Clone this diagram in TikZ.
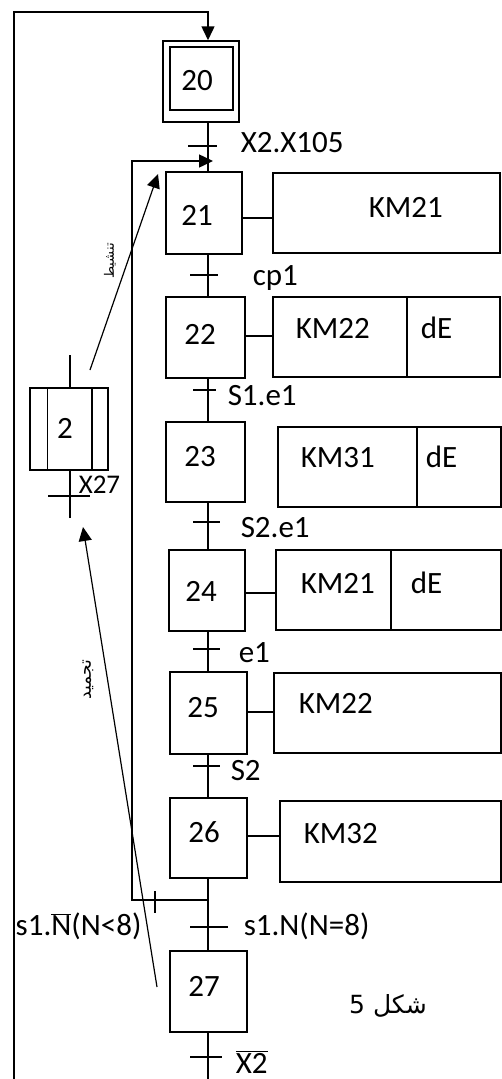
\documentclass[tikz,border=0pt]{standalone}
\usepackage{fontspec}
\setmainfont{Carlito}
\newfontfamily\arabicfont[Script=Arabic]{DejaVu Sans}
\TeXXeTstate=1
\usetikzlibrary{arrows.meta}
\begin{document}
\begin{tikzpicture}[x=1pt,y=-1pt,line width=1.5pt,
  stepbox/.style={draw,inner sep=0pt},
  actbox/.style={draw,inner sep=0pt,minimum height=80pt},
  num/.style={font=\fontsize{31}{32}\selectfont,inner sep=0pt},
  lbl/.style={anchor=base west,inner sep=0pt,font=\fontsize{31}{32}\selectfont},
  tip/.style={-{Triangle[length=14pt,width=13pt]}},
  ar/.style={inner sep=0pt,rotate=90}]
\useasboundingbox (0,0) rectangle (502,1079);
\fill[white] (0,0) rectangle (502,1079);
% axis and helper coordinates
\coordinate (ax) at (208,0);
\coordinate (tl) at (14,12);
\coordinate (bl) at (14,1082);
\coordinate (bot) at (208,1082);
% steps
\node[stepbox,minimum width=76pt,minimum height=81pt] (s20o) at (201,81.5) {};
\node[stepbox,minimum width=63pt,minimum height=63pt,label={[num,xshift=-4.5pt,yshift=-2.5pt]center:20}] (s20) at (201.5,78.5) {};
\node[stepbox,minimum width=76pt,minimum height=82pt,label={[num,xshift=-7pt,yshift=-2pt]center:21}] (s21) at (204,213) {};
\node[stepbox,minimum width=79pt,minimum height=81pt,label={[num,xshift=-5.5pt,yshift=3.5pt]center:22}] (s22) at (205.5,337.5) {};
\node[stepbox,minimum width=79pt,minimum height=80pt,label={[num,xshift=-5.5pt,yshift=5pt]center:23}] (s23) at (205.5,462) {};
\node[stepbox,minimum width=76pt,minimum height=81pt,label={[num,xshift=-6pt,yshift=-0.5pt]center:24}] (s24) at (207,590.5) {};
\node[stepbox,minimum width=77pt,minimum height=82pt,label={[num,xshift=-5.5pt,yshift=5pt]center:25}] (s25) at (208.5,713) {};
\node[stepbox,minimum width=77pt,minimum height=80pt,label={[num,xshift=-4.5pt,yshift=6pt]center:26}] (s26) at (208.5,838) {};
\node[stepbox,minimum width=77pt,minimum height=81pt,label={[num,xshift=-4.5pt,yshift=5.5pt]center:27}] (s27) at (208.5,991.5) {};
% macro step 2
\node[stepbox,minimum width=78pt,minimum height=82pt,label={[num,xshift=-4pt,yshift=1pt]center:2}] (m2) at (69,429) {};
\draw ([xshift=18pt]m2.north west) -- ([xshift=18pt]m2.south west);
\draw ([xshift=-17pt]m2.north east) -- ([xshift=-17pt]m2.south east);
\coordinate (m2t) at (70,355);
\coordinate (m2b) at (70,518);
\draw (m2t) -- (m2t |- m2.north);
\draw (m2b) -- (m2b |- m2.south);
\draw (48,496) -- (90,496);
\node[lbl,font=\fontsize{27}{28}\selectfont] (lx27) at (78,493) {X27};
% action boxes
\node[actbox,minimum width=227pt] (a21) at (386.5,213) {};
\node[actbox,minimum width=227pt] (a22) at (386.5,337) {};
\node[actbox,minimum width=223pt] (a23) at (389.5,467) {};
\node[actbox,minimum width=225pt] (a24) at (388.5,590) {};
\node[actbox,minimum width=227pt] (a25) at (387.5,713) {};
\node[actbox,minimum width=221pt,minimum height=81pt] (a26) at (390.5,841.5) {};
\coordinate (d22) at (407,0);
\coordinate (d23) at (417,0);
\coordinate (d24) at (391,0);
\draw (a22.north -| d22) -- (a22.south -| d22);
\draw (a23.north -| d23) -- (a23.south -| d23);
\draw (a24.north -| d24) -- (a24.south -| d24);
\node[lbl] (t21) at (368,217) {KM21};
\node[lbl] (t22) at (295,338) {KM22};
\node[lbl] (t22b) at (420,338) {dE};
\node[lbl] (t23) at (300,467) {KM31};
\node[lbl] (t23b) at (425,467) {dE};
\node[lbl] (t24) at (300,593) {KM21};
\node[lbl] (t24b) at (410,593) {dE};
\node[lbl] (t25) at (298,713) {KM22};
\node[lbl] (t26) at (303,843) {KM32};
% step-action connectors
\coordinate (c21) at (0,218);
\coordinate (c22) at (0,336);
\coordinate (c24) at (0,593);
\coordinate (c25) at (0,712);
\coordinate (c26) at (0,836);
\draw (s21.east |- c21) -- (a21.west |- c21);
\draw (s22.east |- c22) -- (a22.west |- c22);
\draw (s24.east |- c24) -- (a24.west |- c24);
\draw (s25.east |- c25) -- (a25.west |- c25);
\draw (s26.east |- c26) -- (a26.west |- c26);
% main links
\draw[tip] (bl) -- (tl) -- (tl -| ax) -- (s20o.north -| ax);
\draw (s20o.south -| ax) -- (s21.north -| ax);
\draw (s21.south -| ax) -- (s22.north -| ax);
\draw (s22.south -| ax) -- (s23.north -| ax);
\draw (s23.south -| ax) -- (s24.north -| ax);
\draw (s24.south -| ax) -- (s25.north -| ax);
\draw (s25.south -| ax) -- (s26.north -| ax);
\draw (s26.south -| ax) -- (s27.north -| ax);
\draw (s27.south -| ax) -- (bot);
% loop back to 21
\coordinate (lb) at (132,900);
\coordinate (lt) at (132,161);
\coordinate (le) at (213,161);
\draw[tip] (lb -| ax) -- (lb) -- (lt) -- (le);
\draw (155,891) -- (155,913);
% transitions
\draw (188,146) -- (217,146);
\draw (190,275) -- (218,275);
\draw (193,390) -- (216,390);
\draw (193,522) -- (220,522);
\draw (193,649) -- (220,649);
\draw (193,766) -- (220,766);
\draw (190,927) -- (228,927);
\draw (190,1057) -- (222,1057);
\node[lbl] (r1) at (240,152) {X2.X105};
\node[lbl] (r2) at (252,285) {cp1};
\node[lbl] (r3) at (227,405) {S1.e1};
\node[lbl] (r4) at (240,537) {S2.e1};
\node[lbl] (r5) at (238,662) {e1};
\node[lbl] (r6) at (230,780) {S2};
\node[lbl] (r7) at (243,935) {s1.N(N=8)};
\node[lbl] (r8) at (15,935) {s1.\(\overline{\mbox{N}}\)(N<8)};
\node[lbl] (r9) at (235,1073) {\(\overline{\mbox{X2}}\)};
% forcing arrows
\coordinate (f1a) at (90,370);
\coordinate (f1b) at (158,174);
\coordinate (f2a) at (157,987);
\coordinate (f2b) at (83,527);
\draw[tip,line width=1.2pt] (f1a) -- (f1b);
\draw[tip,line width=1.2pt] (f2a) -- (f2b);
\node[ar,font=\arabicfont\fontsize{13}{14}\selectfont] (q1) at (110,261) {\beginR تنشيط\endR};
\node[ar,font=\arabicfont\fontsize{17}{18}\selectfont] (q2) at (88,680) {\beginR تجميد\endR};
% caption
\node[inner sep=0pt,font=\arabicfont\fontsize{25}{27}\selectfont] (cap) at (388,1006) {\beginR شكل 5\endR};
\end{tikzpicture}
\end{document}
